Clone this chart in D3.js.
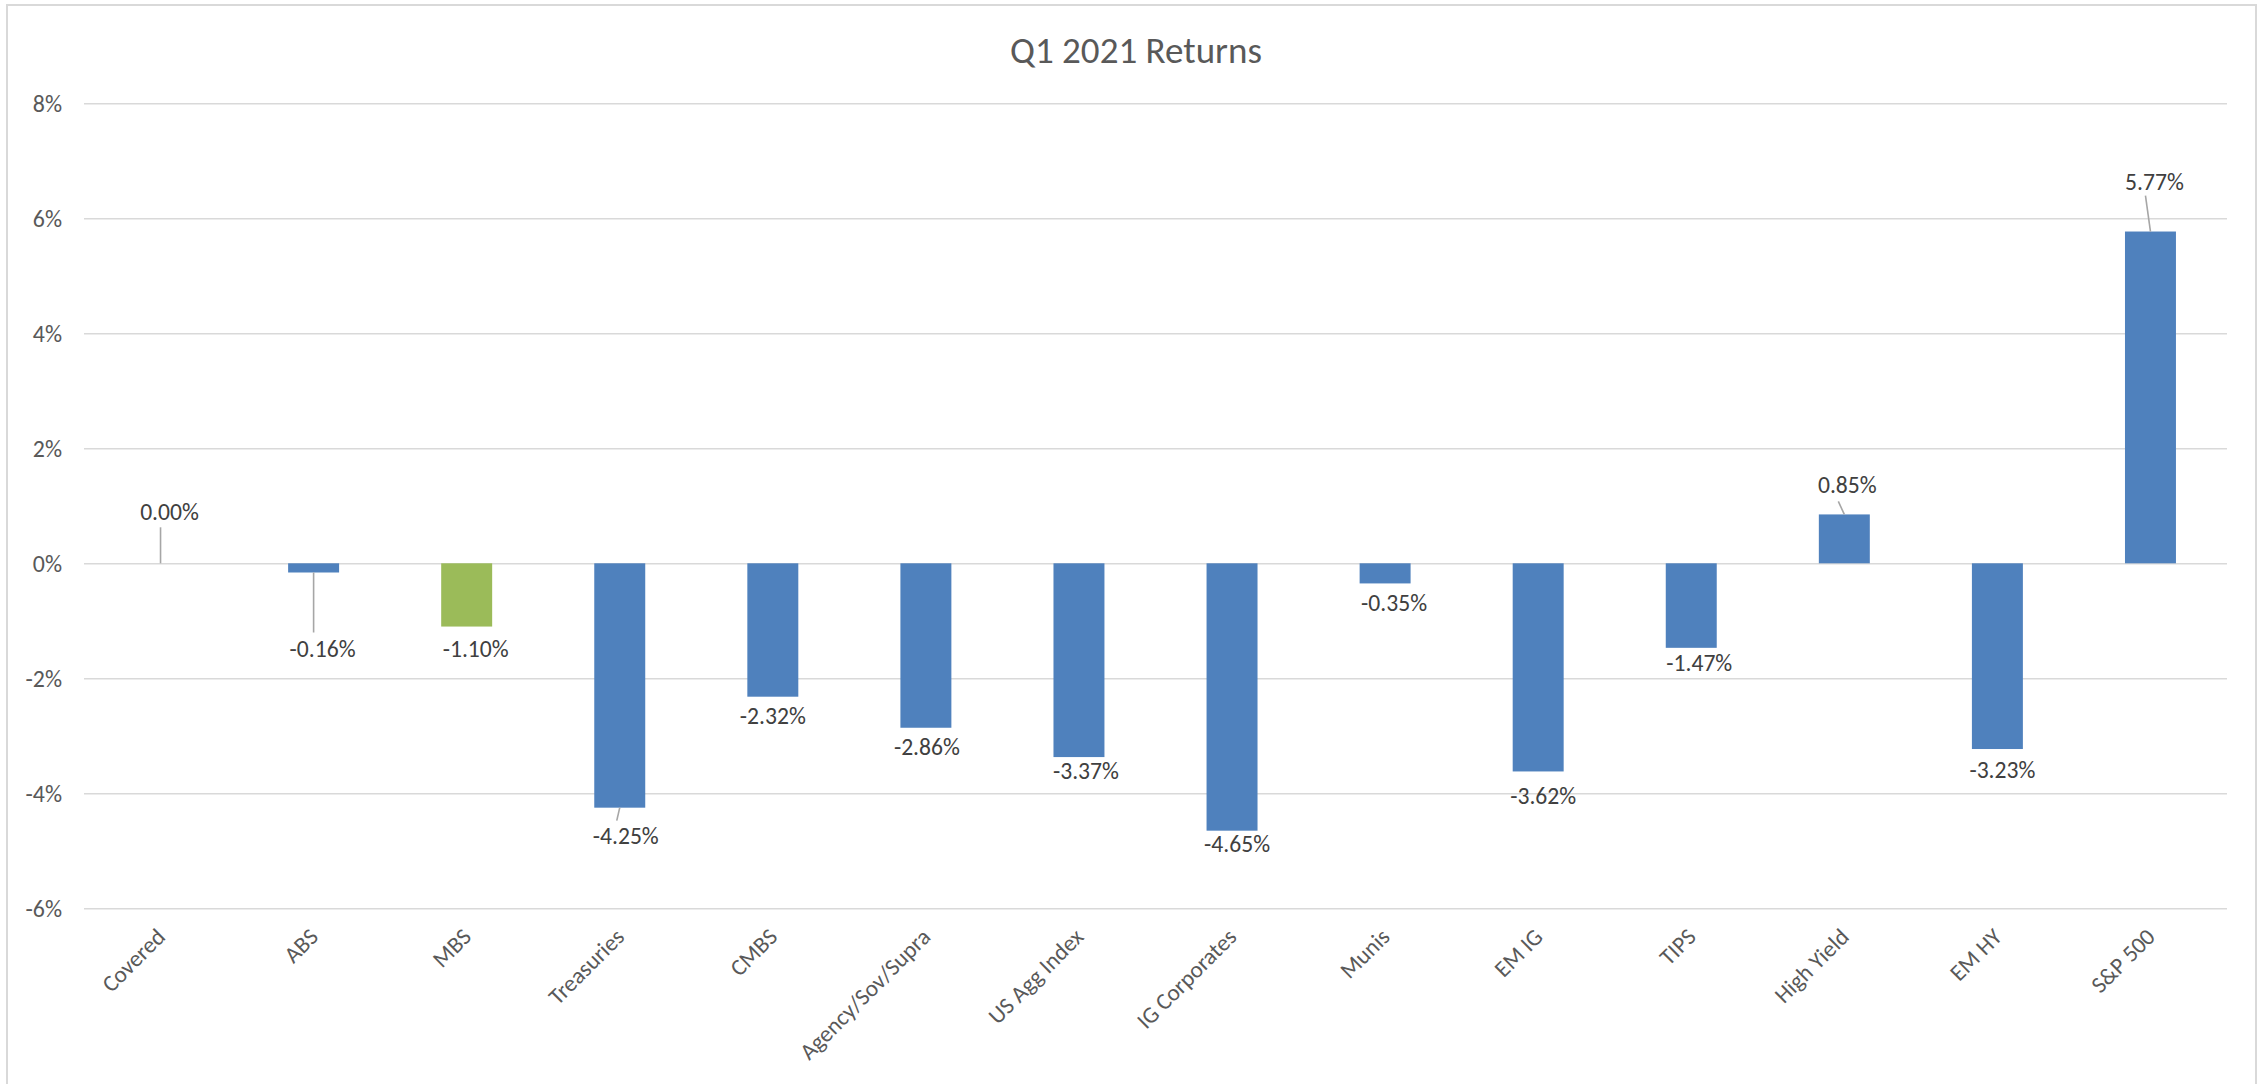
<!DOCTYPE html>
<html>
<head>
<meta charset="utf-8">
<script src="https://cdn.jsdelivr.net/npm/d3@7"></script>
<style>
  html, body { margin: 0; padding: 0; background: #ffffff; }
  svg { display: block; }
  text { font-family: Carlito, Calibri, Lato, "Open Sans", sans-serif; }
</style>
</head>
<body>
<svg id="chart" width="2262" height="1084"></svg>
<script>
// ---- data ----
const title = "Q1 2021 Returns";
const categories = ["Covered", "ABS", "MBS", "Treasuries", "CMBS", "Agency/Sov/Supra",
  "US Agg Index", "IG Corporates", "Munis", "EM IG", "TIPS", "High Yield", "EM HY", "S&P 500"];
const returns = [0.00, -0.16, -1.10, -4.25, -2.32, -2.86, -3.37, -4.65, -0.35, -3.62, -1.47, 0.85, -3.23, 5.77];
const highlighted = ["MBS"];
const yTicks = [-6, -4, -2, 0, 2, 4, 6, 8];
const yTickLabels = ["-6%", "-4%", "-2%", "0%", "2%", "4%", "6%", "8%"];
const yDomain = [-6, 8];

// ---- label placement (dragged data labels in the original; offsets from bar end, px) ----
const labelNudge = {
  "Covered":          { dx: 9,  dy: -43, leader: [0, -36] },
  "ABS":              { dx: 9,  dy: 84,  leader: [0, 60] },
  "MBS":              { dx: 9,  dy: 30 },
  "Treasuries":       { dx: 6,  dy: 36,  leader: [-3, 13] },
  "CMBS":             { dx: 0,  dy: 27 },
  "Agency/Sov/Supra": { dx: 1,  dy: 27 },
  "US Agg Index":     { dx: 7,  dy: 22 },
  "IG Corporates":    { dx: 5,  dy: 21 },
  "Munis":            { dx: 9,  dy: 28 },
  "EM IG":            { dx: 5,  dy: 33 },
  "TIPS":             { dx: 8,  dy: 23 },
  "High Yield":       { dx: 3,  dy: -21, leader: [-6, -13] },
  "EM HY":            { dx: 5,  dy: 29 },
  "S&P 500":          { dx: 4,  dy: -42, leader: [-5, -36] }
};

const FONT = "Carlito, Calibri, Lato, 'Open Sans', sans-serif";
const plot = { left: 84, right: 2227, top: 103.3, bottom: 908.3 };
const svg = d3.select("#chart");

// pick a font size so that a sample string has the width measured on the reference
function fitSize(sample, targetWidth, base) {
  const t = svg.append("text").attr("font-family", FONT).attr("font-size", base).text(sample);
  const w = t.node().getComputedTextLength();
  t.remove();
  return w > 0 ? base * targetWidth / w : base;
}
const titleSize = fitSize(title, 252, 34);
const labelSize = fitSize("-1.10%", 66, 22);
const yLabelSize = fitSize("-6%", 36.5, 22);
const catSize = fitSize("Covered", 78, 22);

// chart border
svg.append("rect")
  .attr("x", 7).attr("y", 5).attr("width", 2249).attr("height", 1090)
  .attr("fill", "#ffffff").attr("stroke", "#d9d9d9").attr("stroke-width", 2);

const x = d3.scaleBand().domain(categories)
  .range([plot.left, plot.right]).paddingInner(0.667).paddingOuter(0.3335);
const y = d3.scaleLinear().domain(yDomain).range([plot.bottom, plot.top]);

// title
svg.append("text")
  .attr("x", 1136).attr("y", 62.5)
  .attr("text-anchor", "middle")
  .style("font-family", FONT)
  .style("font-size", titleSize + "px").attr("fill", "#595959")
  .text(title);

// gridlines via axis
const yAxis = d3.axisLeft(y).tickValues(yTicks)
  .tickSize(-(plot.right - plot.left)).tickFormat("");
const gy = svg.append("g").attr("transform", `translate(${plot.left},0)`).call(yAxis);
gy.select(".domain").remove();
gy.selectAll(".tick line").attr("stroke", "#d9d9d9").attr("stroke-width", 1.6);
gy.selectAll(".tick text").remove();

// y tick labels
svg.append("g").selectAll("text").data(yTicks).join("text")
  .attr("x", plot.left - 22)
  .attr("y", d => y(d))
  .attr("dy", "0.36em")
  .attr("text-anchor", "end")
  .style("font-family", FONT)
  .style("font-size", yLabelSize + "px")
  .attr("fill", "#595959")
  .text((d, i) => yTickLabels[i]);

// bars
const data = categories.map((c, i) => ({ cat: c, v: returns[i] }));
svg.append("g").selectAll("rect").data(data).join("rect")
  .attr("x", d => x(d.cat))
  .attr("width", x.bandwidth())
  .attr("y", d => Math.min(y(d.v), y(0)))
  .attr("height", d => Math.abs(y(d.v) - y(0)))
  .attr("fill", d => highlighted.includes(d.cat) ? "#9bbb59" : "#4f81bd");

// leader lines
svg.append("g").selectAll("line").data(data.filter(d => labelNudge[d.cat].leader)).join("line")
  .attr("x1", d => x(d.cat) + x.bandwidth() / 2)
  .attr("y1", d => y(d.v))
  .attr("x2", d => x(d.cat) + x.bandwidth() / 2 + labelNudge[d.cat].leader[0])
  .attr("y2", d => y(d.v) + labelNudge[d.cat].leader[1])
  .attr("stroke", "#a6a6a6").attr("stroke-width", 1.6);

// data labels
svg.append("g").selectAll("text").data(data).join("text")
  .attr("x", d => x(d.cat) + x.bandwidth() / 2 + labelNudge[d.cat].dx)
  .attr("y", d => y(d.v) + labelNudge[d.cat].dy)
  .attr("text-anchor", "middle")
  .style("font-family", FONT)
  .style("font-size", labelSize + "px").attr("fill", "#404040")
  .text(d => d.v.toFixed(2) + "%");

// x axis labels
const xAxis = d3.axisBottom(x).tickSize(0).tickPadding(0);
const gx = svg.append("g").attr("transform", `translate(0,${plot.bottom})`).call(xAxis);
gx.select(".domain").remove();
gx.selectAll(".tick text")
  .style("font-family", FONT)
  .style("font-size", catSize + "px").attr("fill", "#595959")
  .attr("text-anchor", "end")
  .attr("dy", null).attr("y", null)
  .attr("transform", "translate(6,30) rotate(-45)");
</script>
</body>
</html>
